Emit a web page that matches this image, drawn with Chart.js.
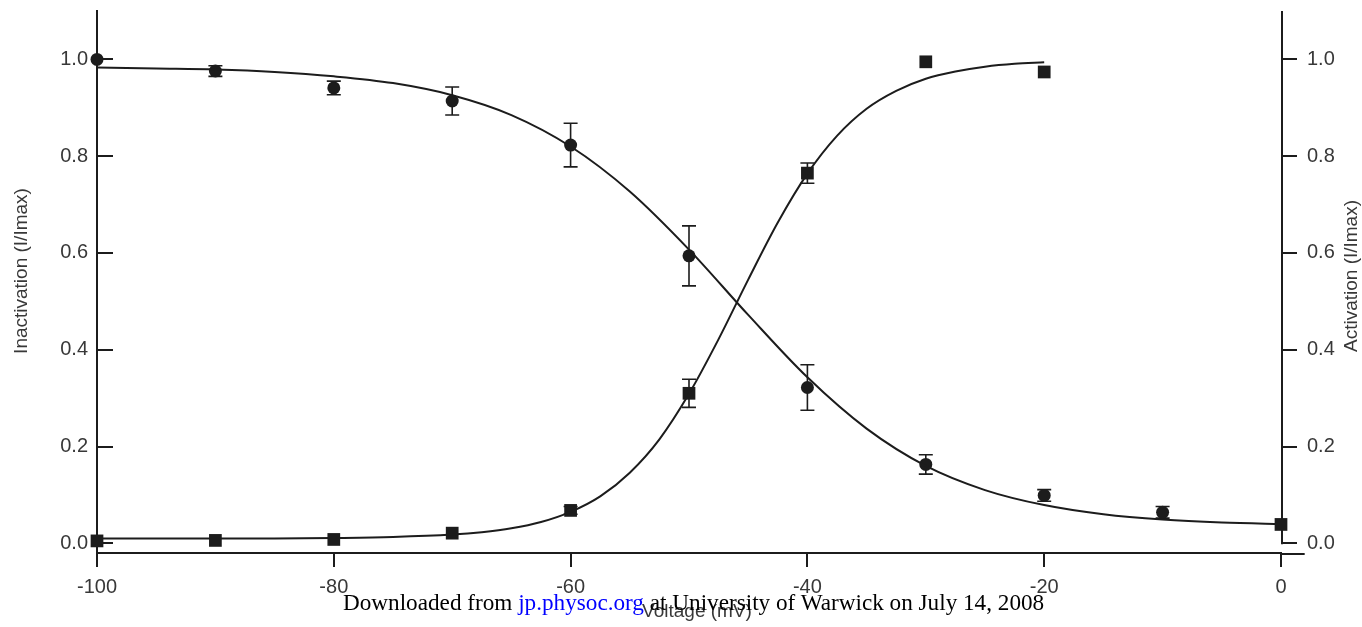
<!DOCTYPE html>
<html>
<head>
<meta charset="utf-8">
<script src="https://cdn.jsdelivr.net/npm/chart.js@4.4.1/dist/chart.umd.min.js"></script>
<style>
  html, body { margin: 0; padding: 0; background: #fff; overflow: hidden; }
  #wrap { position: relative; width: 1362px; height: 627px; }
  #note {
    position: absolute; left: 343px; top: 591px;
    font-family: "Liberation Serif", "Times New Roman", serif;
    font-size: 23.2px; line-height: 1; color: #000; white-space: nowrap;
  }
  #note .site { color: #00f; }
</style>
</head>
<body>
<div id="wrap">
  <canvas id="c" width="1362" height="627"></canvas>
  <div id="note">Downloaded from <span class="site">jp.physoc.org</span> at University of Warwick on July 14, 2008</div>
</div>
<script>
// Steady-state inactivation (circles, left axis) and activation (squares, right axis)
const voltage = [-100, -90, -80, -70, -60, -50, -40, -30, -20, -10, 0];
const inactivation = [1.0, 0.976, 0.941, 0.914, 0.823, 0.594, 0.322, 0.163, 0.099, 0.064, 0.039];
const inactivationErr = [0, 0.011, 0.014, 0.029, 0.045, 0.062, 0.047, 0.020, 0.012, 0.012, 0];

const actVoltage = [-100, -90, -80, -70, -60, -50, -40, -30, -20];
const activation = [0.005, 0.006, 0.008, 0.021, 0.068, 0.310, 0.765, 0.995, 0.974];
const activationErr = [0, 0, 0, 0, 0.008, 0.029, 0.021, 0, 0];

// Boltzmann fit curves
const inactFitV = [-100, -95, -90, -85, -80, -75, -70, -65, -60, -55, -50, -45, -40, -35, -30, -25, -20, -15, -10, -5, 0, 2];
const inactFit = [0.983, 0.981, 0.979, 0.974, 0.965, 0.951, 0.926, 0.885, 0.820, 0.727, 0.607, 0.472, 0.343, 0.237, 0.160, 0.110, 0.079, 0.060, 0.049, 0.043, 0.040, 0.039];

const actFitV = [-100, -95, -90, -85, -80, -75, -70, -67.5, -65, -62.5, -60, -57.5, -55, -52.5, -50, -47.5, -45, -42.5, -40, -37.5, -35, -32.5, -30, -27.5, -25, -22.5, -20];
const actFit = [0.010, 0.010, 0.010, 0.010, 0.011, 0.013, 0.018, 0.023, 0.031, 0.044, 0.065, 0.097, 0.146, 0.215, 0.309, 0.422, 0.545, 0.663, 0.764, 0.842, 0.898, 0.935, 0.960, 0.975, 0.985, 0.991, 0.994];

const xTicks = [-100, -80, -60, -40, -20, 0];
const yTicks = [0, 0.2, 0.4, 0.6, 0.8, 1.0];
const xAxisEnd = 2;

const xTitle = 'Voltage (mV)';
const leftTitle = 'Inactivation (I/Imax)';
const rightTitle = 'Activation (I/Imax)';

const ink = '#1c1c1c';
const labelColor = '#383838';
const sans = '"Liberation Sans", Arial, sans-serif';

const toXY = (xs, ys) => xs.map((x, i) => ({ x, y: ys[i] }));
const setTicks = list => s => { s.ticks = list.map(v => ({ value: v })); };
const fixSize = (w, h) => s => {
  if (w !== null) s.width = w;
  if (h !== null) s.height = h;
  s.paddingTop = 0; s.paddingBottom = 0; s.paddingLeft = 0; s.paddingRight = 0;
};

// vertical error bars with caps, drawn under the markers
const errorBars = {
  id: 'errorBars',
  beforeDatasetsDraw(chart) {
    const { ctx, scales } = chart;
    chart.data.datasets.forEach(ds => {
      if (!ds.errors) return;
      const ys = scales[ds.yAxisID];
      ctx.save();
      ctx.strokeStyle = ink;
      ctx.lineWidth = 1.6;
      ds.data.forEach((p, i) => {
        const e = ds.errors[i];
        if (!e) return;
        const px = scales.x.getPixelForValue(p.x);
        const top = ys.getPixelForValue(p.y + e);
        const bot = ys.getPixelForValue(p.y - e);
        ctx.beginPath();
        ctx.moveTo(px, top); ctx.lineTo(px, bot);
        ctx.moveTo(px - 7, top); ctx.lineTo(px + 7, top);
        ctx.moveTo(px - 7, bot); ctx.lineTo(px + 7, bot);
        ctx.stroke();
      });
      ctx.restore();
    });
  }
};

// x baseline running past 0, right axis spine, axis titles
const axisExtras = {
  id: 'axisExtras',
  afterDraw(chart) {
    const { ctx, scales, chartArea } = chart;
    const x = scales.x, l = scales.y, r = scales.y1;
    ctx.save();
    ctx.strokeStyle = ink;
    ctx.lineWidth = 2;
    ctx.beginPath();
    ctx.moveTo(chartArea.right - 1, x.top + 1);
    ctx.lineTo(x.getPixelForValue(xAxisEnd), x.top + 1);
    ctx.moveTo(r.left + 1, chartArea.top);
    ctx.lineTo(r.left + 1, r.getPixelForValue(0) + 1);
    ctx.stroke();

    const midY = (chartArea.top + chartArea.bottom) / 2;
    ctx.fillStyle = labelColor;
    ctx.font = '19px ' + sans;
    ctx.textAlign = 'center';
    ctx.textBaseline = 'middle';

    ctx.fillText(xTitle, (chartArea.left + chartArea.right) / 2 + 8, x.bottom - 15);

    ctx.save();
    ctx.translate(l.left + 22, midY - 11);
    ctx.rotate(-Math.PI / 2);
    ctx.fillText(leftTitle, 0, 0);
    ctx.restore();

    ctx.translate(r.right - 10, midY - 6);
    ctx.rotate(-Math.PI / 2);
    ctx.fillText(rightTitle, 0, 0);
    ctx.restore();
  }
};

const yAxis = (position, extra) => Object.assign({
  type: 'linear',
  position,
  min: -0.02,
  max: 1.1,
  afterBuildTicks: setTicks(yTicks)
}, extra);

new Chart(document.getElementById('c'), {
  type: 'scatter',
  data: {
    datasets: [
      {
        label: 'Inactivation fit', type: 'line', yAxisID: 'y',
        data: toXY(inactFitV, inactFit),
        borderColor: ink, borderWidth: 2, pointRadius: 0,
        cubicInterpolationMode: 'monotone', fill: false, clip: false
      },
      {
        label: 'Activation fit', type: 'line', yAxisID: 'y1',
        data: toXY(actFitV, actFit),
        borderColor: ink, borderWidth: 2, pointRadius: 0,
        cubicInterpolationMode: 'monotone', fill: false, clip: false
      },
      {
        label: 'Inactivation', yAxisID: 'y',
        data: toXY(voltage, inactivation), errors: inactivationErr,
        pointStyle: c => (c.dataIndex === voltage.length - 1 ? 'rect' : 'circle'),
        pointRadius: c => (c.dataIndex === voltage.length - 1 ? 9 : 6.5),
        backgroundColor: ink, borderColor: ink, borderWidth: 0, clip: false
      },
      {
        label: 'Activation', yAxisID: 'y1',
        data: toXY(actVoltage, activation), errors: activationErr,
        pointStyle: 'rect', pointRadius: 9,
        backgroundColor: ink, borderColor: ink, borderWidth: 0, clip: false
      }
    ]
  },
  options: {
    responsive: false,
    animation: false,
    devicePixelRatio: 1,
    layout: { padding: { top: 11, left: 0, right: 0, bottom: 0 } },
    plugins: { legend: { display: false }, tooltip: { enabled: false } },
    scales: {
      x: {
        type: 'linear', position: 'bottom', min: -100, max: 0,
        afterBuildTicks: setTicks(xTicks),
        afterFit: fixSize(null, 74),
        border: { display: true, color: ink, width: 2 },
        grid: { drawOnChartArea: false, tickLength: 14, color: ink, lineWidth: 2 },
        ticks: { color: labelColor, font: { size: 20, family: sans }, padding: 8, maxRotation: 0, autoSkip: false, callback: v => String(v) }
      },
      y: yAxis('left', {
        afterFit: fixSize(97, null),
        border: { display: true, color: ink, width: 2 },
        grid: { drawOnChartArea: false, tickLength: -16, color: ink, lineWidth: 2 },
        ticks: { color: labelColor, font: { size: 20, family: sans }, padding: 25, callback: v => v.toFixed(1) }
      }),
      y1: yAxis('right', {
        afterFit: fixSize(81, null),
        border: { display: false },
        grid: { drawOnChartArea: false, tickLength: 16, color: ink, lineWidth: 2 },
        ticks: { color: labelColor, font: { size: 20, family: sans }, padding: 10, callback: v => v.toFixed(1) }
      })
    }
  },
  plugins: [errorBars, axisExtras]
});
</script>
</body>
</html>
